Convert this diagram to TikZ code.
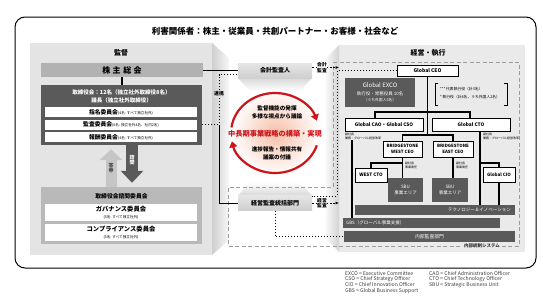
\documentclass[tikz,border=0pt]{standalone}
\usepackage{fontspec}
\setmainfont{Noto Sans CJK JP}
\usetikzlibrary{arrows.meta,calc}
\newcommand{\myfs}[1]{\fontsize{#1}{#1}\selectfont}
\definecolor{wallL}{HTML}{E4E4E4}
\definecolor{wallR}{HTML}{EAEAEA}
\definecolor{agmgray}{HTML}{B2B2B2}
\definecolor{dk}{HTML}{5A5A5A}
\definecolor{advgray}{HTML}{B9B9B9}
\definecolor{upgray}{HTML}{C6C6C6}
\definecolor{rd}{HTML}{D0121B}
\definecolor{dashgray}{HTML}{9C9C9C}
\definecolor{fngray}{HTML}{3C3C3C}
\definecolor{pk}{HTML}{F6C0AA}
\begin{document}
\begin{tikzpicture}[x=1pt,y=-1pt,
  box/.style={draw=black, line width=0.7pt, fill=white, inner sep=0pt, align=center, font=\bfseries\myfs{4.8}},
  dkbox/.style={fill=dk, inner sep=0pt, align=center, text=white, font=\myfs{4.5}},
  wbox/.style={fill=white, inner sep=0pt, align=center, font=\myfs{6.3}},
  midbox/.style={top color=gray!20, bottom color=gray!38, inner sep=0pt, font=\bfseries\myfs{6}},
  orgline/.style={line width=1.1pt},
  stars/.style={inner sep=0.8pt, font=\myfs{3.6}},
  lbl/.style={inner sep=0pt, align=left, font=\fontsize{3}{3.9}\selectfont, anchor=north west},
  dotline/.style={dotted, line width=1pt},
  dashline/.style={line width=0.7pt, dash pattern=on 2pt off 1.5pt},
]
\useasboundingbox (0,0) rectangle (543,297);
% frame
\draw[line width=1pt, rounded corners=10pt] (15,17) rectangle (536,268);
% walls
\fill[wallL] (30,43) rectangle (212,255);
\shade[left color=gray!38, right color=gray!6] (212,43) -- (229,58) -- (229,240) -- (212,255) -- cycle;
\fill[wallR] (339,45) rectangle (525,252);
\shade[left color=gray!6, right color=gray!35] (326,58) -- (339,45) -- (339,252) -- (326,239) -- cycle;
% funnels
\shade[top color=gray!30, bottom color=white] (238,78) -- (312,78) -- (300,91) -- (250,91) -- cycle;
\shade[top color=white, bottom color=gray!30] (250,182) -- (300,182) -- (312,195.5) -- (238,195.5) -- cycle;
% glow
\shade[inner color=pk, outer color=white] (276,133) ellipse[x radius=45, y radius=43];
% internal control boundary
\draw[dashgray, line width=0.8pt, dash pattern=on 4pt off 2.5pt] (333,62) -- (519,62) -- (519,246) -- (228,246) -- (228,187) -- (333,187) -- cycle;

% title
\node[font=\bfseries\myfs{8.5}] (title) at (275,31) {利害関係者：株主・従業員・共創パートナー・お客様・社会など};

% ---------- left panel
\node[font=\bfseries\myfs{7}] (kantoku) at (121,53) {監督};
\node[fill=agmgray, minimum width=162pt, minimum height=14pt, inner sep=0pt, font=\bfseries\myfs{8}] (agm) at (122,70) {株\hspace{2.5pt}主\hspace{2.5pt}総\hspace{2.5pt}会};
\node[fill=dk, minimum width=161pt, minimum height=60pt, inner sep=0pt] (board) at (121.5,115) {};
\node[text=white, font=\bfseries\myfs{5.5}, inner sep=0pt] (bt1) at (121.5,92) {取締役会：12名（独立社外取締役8名）};
\node[text=white, font=\bfseries\myfs{5.5}, inner sep=0pt] (bt2) at (121.5,100.5) {議長（独立社外取締役）};
\node[wbox, minimum width=152pt, minimum height=10pt] (nom) at (121,112) {{\bfseries\myfs{5.8}指名委員会}{\myfs{3.6}(4名: すべて独立社外)}};
\node[wbox, minimum width=152pt, minimum height=10pt] (aud) at (121,124.5) {{\bfseries\myfs{5.8}監査委員会}{\myfs{3.6}(6名: 独立社外4名、社内2名)}};
\node[wbox, minimum width=152pt, minimum height=10pt] (rem) at (121,137) {{\bfseries\myfs{5.8}報酬委員会}{\myfs{3.6}(4名: すべて独立社外)}};
\draw[line width=1.2pt] (agm.south) -- (agm.south |- board.north);

\node[fill=advgray, minimum width=161pt, minimum height=57pt, inner sep=0pt] (adv) at (121.5,215.5) {};
\node[font=\bfseries\myfs{5.8}, inner sep=0pt] (advt) at (121.5,196) {取締役会諮問委員会};
\node[wbox, minimum width=152pt, minimum height=17pt] (gov) at (121,212.5) {{\bfseries ガバナンス委員会}\\{\myfs{3.6}(5名: すべて独立社外)}};
\node[wbox, minimum width=152pt, minimum height=17pt] (comp) at (121,232.5) {{\bfseries コンプライアンス委員会}\\{\myfs{3.6}(5名: すべて独立社外)}};

\coordinate (upx) at (111,0);
\coordinate (dnx) at (132,0);
\draw[upgray, line width=11pt, -{Triangle[length=11pt,width=22pt]}] (adv.north -| upx) -- ($(board.south -| upx)+(0,4)$);
\draw[dk, line width=12pt, -{Triangle[length=12pt,width=22pt]}] (board.south -| dnx) -- ($(adv.north -| dnx)+(0,-4)$);
\node[font=\bfseries\myfs{5}, align=center, inner sep=0pt, text=black!75] (toshin) at (111,168) {答\\[0.6pt]申};
\node[font=\bfseries\myfs{5}, align=center, inner sep=0pt, text=white] (shimon) at (132,160) {諮\\[0.6pt]問};

% ---------- middle
\node[midbox, minimum width=74pt, minimum height=15pt] (auditor) at (275,70.5) {会計監査人};
\node[midbox, minimum width=74pt, minimum height=15pt] (mgmtaudit) at (275,203) {経営監査統括部門};

\coordinate (cc) at (275,133);
\draw[rd, line width=2.2pt, -{Triangle[length=6pt,width=8pt]}] ($(cc)+(-172:44 and 40)$) arc[start angle=-172, end angle=-18, x radius=44, y radius=40];
\draw[rd, line width=2.2pt, -{Triangle[length=6pt,width=8pt]}] ($(cc)+(18:44 and 40)$) arc[start angle=18, end angle=168, x radius=44, y radius=40];
\node[font=\bfseries\myfs{5.6}, align=center, inner sep=0pt] (c1) at (277,112.5) {監督機能の発揮\\[3pt]多様な視点から議論};
\node[font=\bfseries\myfs{7.2}, text=rd, inner sep=0pt] (c2) at (275,134) {中長期事業戦略の構築・実現};
\node[font=\bfseries\myfs{5.6}, align=center, inner sep=0pt] (c3) at (277,153.5) {進捗報告・情報共有\\[3pt]議案の付議};

% ---------- right panel
\node[font=\bfseries\myfs{7}] (keiei) at (428,53) {経営・執行};
\node[box, minimum width=61pt, minimum height=11pt, font=\bfseries\myfs{5}] (ceo) at (427.5,70.5) {Global CEO};
\node[stars, anchor=north east] (ceos) at (ceo.north east) {***};
\node[dkbox, minimum width=70pt, minimum height=29pt] (exco) at (380,92.5) {};
\node[text=white, font=\myfs{6}, inner sep=0pt] (exco1) at (380,85) {Global EXCO};
\node[text=white, font=\myfs{4.5}, inner sep=0pt] (exco2) at (380,93.5) {執行役・常務役員 10名};
\node[text=white, font=\myfs{3.8}, inner sep=0pt] (exco3) at (380,100.5) {（うち外国人5名）};
\draw[line width=0.5pt] (438,83) -- (435,83) -- (435,105) -- (438,105);
\draw[line width=0.5pt] (504,83) -- (507,83) -- (507,105) -- (504,105);
\node[anchor=west, font=\myfs{3.8}, inner sep=0pt] (lg1) at (440,89.5) {***\,代表執行役（計3名）};
\node[anchor=west, font=\myfs{3.8}, inner sep=0pt] (lg2) at (440,97) {*\,執行役（計4名、うち外国人2名）};

\node[box, minimum width=78pt, minimum height=13pt] (cao) at (384,124.5) {Global CAO・Global CSO};
\node[stars, anchor=north east] (caos) at (cao.north east) {***};
\node[box, minimum width=78pt, minimum height=13pt] (cto) at (471,124.5) {Global CTO};
\node[stars, anchor=north east] (ctos) at (cto.north east) {*};
\node[lbl] (caol) at (345,133) {副社長\\兼務：グローバル経営改革};
\node[lbl] (ctol) at (483,133) {副社長\\兼務：グローバル経営改革};

\node[box, minimum width=39pt, minimum height=16pt, font=\bfseries\fontsize{4.4}{5.6}\selectfont] (wceo) at (402.5,149) {BRIDGESTONE\\WEST CEO};
\node[stars, anchor=north east] (wceos) at (wceo.north east) {*};
\node[box, minimum width=40pt, minimum height=16pt, font=\bfseries\fontsize{4.4}{5.6}\selectfont] (eceo) at (453,149) {BRIDGESTONE\\EAST CEO};
\node[stars, anchor=north east] (eceos) at (eceo.north east) {***};
\node[box, minimum width=32pt, minimum height=14pt, font=\bfseries\myfs{4.6}] (wcto) at (371,175) {WEST CTO};
\node[stars, anchor=north east] (wctos) at (wcto.north east) {*};
\node[dkbox, minimum width=35pt, minimum height=24pt, font=\fontsize{4.5}{6.5}\selectfont] (sbuw) at (405.5,190) {SBU\\事業エリア};
\node[dkbox, minimum width=36pt, minimum height=24pt, font=\fontsize{4.5}{6.5}\selectfont] (sbue) at (450,190) {SBU\\事業エリア};
\node[box, minimum width=32pt, minimum height=15pt, font=\bfseries\myfs{4.5}] (cio) at (499,174.5) {Global CIO};
\node[stars, anchor=north east] (cios) at (cio.north east) {*};
\node[lbl] (wl) at (405,161.5) {副社長\\事業責任};
\node[lbl] (el) at (456,161.5) {副社長\\事業責任};

\node[dkbox, minimum width=160pt, minimum height=10pt] (tech) at (435,210) {};
\node[anchor=east, text=white, font=\myfs{4.5}, inner sep=0pt] (techt) at (511,210) {テクノロジー＆イノベーション};
\node[dkbox, minimum width=157pt, minimum height=10pt] (gbs) at (421.5,223) {};
\node[anchor=west, text=white, font=\myfs{4.5}, inner sep=0pt] (gbst) at (346,223) {GBS（グローバル事業支援）};
\node[dkbox, minimum width=171pt, minimum height=11pt, font=\myfs{4.8}] (ia) at (429.5,236.5) {内部監査部門};

% org lines
\coordinate (hL) at (375,112);
\coordinate (hR) at (470,112);
\coordinate (h2) at (0,135);
\coordinate (h3) at (0,163);
\coordinate (cx) at (480,0);
\coordinate (cl) at (352,0);
\draw[orgline] (ceo.south) -- (ceo.south |- h2);
\draw[orgline] (cao.north -| hL) |- (hR) -- (cto.north -| hR);
\draw[orgline] (wceo.north) -- (wceo.north |- h2) -- (eceo.north |- h2) -- (eceo.north);
\draw[orgline] (wceo.south) -- (wceo.south |- sbuw.north);
\draw[orgline] (wceo.south |- h3) -| (wcto.north);
\draw[orgline] (eceo.south) -- (eceo.south |- sbue.north);
\draw[orgline] (cto.south -| cx) -- (tech.north -| cx);
\draw[orgline] (cx |- h3) -| (cio.north);
\draw[orgline] (cio.south) -- (cio.south |- tech.north);
\draw[orgline] (caol.south -| cl) -- (gbs.north -| cl);

% connectors between panels
\coordinate (j1) at (219,124.5);
\coordinate (rw) at (339,0);
\coordinate (dx) at (337,0);
\draw[line width=0.9pt] (agm.east) -- (agm.east -| auditor.west);
\draw[dotline] (aud.east -| board.east) -- (j1) |- ($(auditor.west)+(0,4)$);
\draw[line width=0.9pt] (j1) |- (mgmtaudit.west);
\draw[dashline, -{Latex[length=3.5pt,width=3pt]}] ($(auditor.east)+(0,-3)$) -- ($(auditor.east -| rw)+(0,-3)$);
\draw[dashline, -{Latex[length=3.5pt,width=3pt]}] (mgmtaudit.east) -- (mgmtaudit.east -| rw);
\draw[dotline] (ceo.west) -- (ceo.west -| dx) |- ($(mgmtaudit.north east)+(0,1)$);
\draw[dotline] (mgmtaudit.south) |- (ia.west);

\node[font=\bfseries\myfs{4.8}, fill=gray!25, inner sep=0.6pt] (renkei) at (219,94) {連携};
\node[fill=white, font=\bfseries\fontsize{4.8}{5.6}\selectfont, align=center, inner sep=0.5pt] (kaikeik) at (322,67.5) {会計\\監査};
\node[fill=white, font=\bfseries\fontsize{4.8}{5.6}\selectfont, align=center, inner sep=0.5pt] (keieik) at (322,203) {経営\\監査};
\node[fill=wallR, font=\bfseries\myfs{4.5}, text=black!80, inner sep=1pt] (ics) at (482,246) {内部統制システム};

% footnote
\node[anchor=north west, align=left, font=\fontsize{5.1}{5.4}\selectfont, text=fngray, inner sep=0pt] (fn1) at (345,271) {EXCO = Executive Committee\\CSO = Chief Strategy Officer\\CIO = Chief Innovation Officer\\GBS = Global Business Support};
\node[anchor=north west, align=left, font=\fontsize{5.1}{5.4}\selectfont, text=fngray, inner sep=0pt] (fn2) at (429,271) {CAO = Chief Administration Officer\\CTO = Chief Technology Officer\\SBU = Strategic Business Unit};
\end{tikzpicture}
\end{document}
